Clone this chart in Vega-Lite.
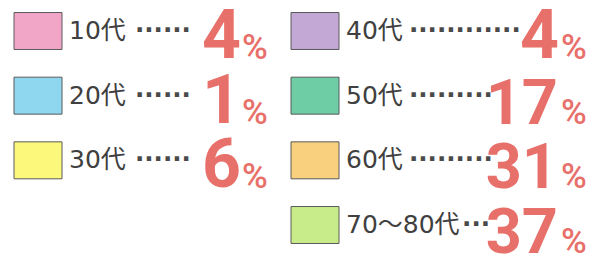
{
  "$schema": "https://vega.github.io/schema/vega-lite/v6.json",
  "width": 608,
  "height": 260,
  "autosize": {"type": "fit", "contains": "padding"},
  "padding": 0,
  "background": "white",
  "config": {"view": {"stroke": null}},
  "data": {"values": [
    {"age": "10代", "dots": "······", "pct": 4, "col": 0, "row": 0},
    {"age": "20代", "dots": "······", "pct": 1, "col": 0, "row": 1},
    {"age": "30代", "dots": "······", "pct": 6, "col": 0, "row": 2},
    {"age": "40代", "dots": "············", "pct": 4, "col": 1, "row": 0},
    {"age": "50代", "dots": "·········", "pct": 17, "col": 1, "row": 1},
    {"age": "60代", "dots": "·········", "pct": 31, "col": 1, "row": 2},
    {"age": "70～80代", "dots": "···", "pct": 37, "col": 1, "row": 3}
  ]},
  "encoding": {
    "y": {"field": "row", "type": "quantitative", "scale": {"domain": [0, 3], "range": [31, 225]}, "axis": null}
  },
  "layer": [
    {
      "mark": {"type": "point", "shape": "M-1,-0.77L1,-0.77L1,0.77L-1,0.77Z", "size": 2304, "filled": true, "opacity": 1, "stroke": "#5a5a5a", "strokeWidth": 1},
      "encoding": {
        "x": {"field": "col", "type": "quantitative", "scale": {"domain": [0, 1], "range": [38, 315]}, "axis": null},
        "color": {"field": "age", "type": "nominal", "legend": null, "scale": {
          "domain": ["10代", "20代", "30代", "40代", "50代", "60代", "70～80代"],
          "range": ["#F2A6C7", "#8FD7EF", "#FCF87C", "#C3A7D5", "#6FCDA6", "#F8D07E", "#C8EC8A"]
        }}
      }
    },
    {
      "mark": {"type": "text", "align": "left", "baseline": "middle", "dx": 31, "fontSize": 25, "font": "DejaVu Sans, Noto Sans CJK JP", "fill": "#404040"},
      "encoding": {
        "x": {"field": "col", "type": "quantitative", "scale": {"domain": [0, 1], "range": [38, 315]}, "axis": null},
        "text": {"field": "age"}
      }
    },
    {
      "transform": [{"filter": "datum.row < 3"}],
      "mark": {"type": "text", "align": "left", "baseline": "middle", "fontSize": 24.5, "font": "DejaVu Sans", "fontWeight": "bold", "fill": "#4a4a4a"},
      "encoding": {
        "x": {"field": "col", "type": "quantitative", "scale": {"domain": [0, 1], "range": [135, 409]}, "axis": null},
        "text": {"field": "dots"}
      }
    },
    {
      "transform": [{"filter": "datum.row == 3"}],
      "mark": {"type": "text", "align": "right", "baseline": "middle", "fontSize": 24.5, "font": "DejaVu Sans", "fontWeight": "bold", "fill": "#4a4a4a"},
      "encoding": {
        "x": {"field": "col", "type": "quantitative", "scale": {"domain": [0, 1], "range": [212, 490]}, "axis": null},
        "text": {"field": "dots"}
      }
    },
    {
      "transform": [{"filter": "datum.pct < 10"}],
      "mark": {"type": "text", "align": "right", "baseline": "alphabetic", "dy": 27, "fontSize": 68, "font": "Roboto, sans-serif", "fontWeight": "bold", "fill": "#E8706A"},
      "encoding": {
        "x": {"field": "col", "type": "quantitative", "scale": {"domain": [0, 1], "range": [241, 559]}, "axis": null},
        "text": {"field": "pct"}
      }
    },
    {
      "transform": [{"filter": "datum.pct >= 10"}],
      "mark": {"type": "text", "align": "right", "baseline": "alphabetic", "dy": 28, "fontSize": 63, "font": "Roboto, sans-serif", "fontWeight": "bold", "fill": "#E8706A"},
      "encoding": {
        "x": {"field": "col", "type": "quantitative", "scale": {"domain": [0, 1], "range": [241, 558]}, "axis": null},
        "text": {"field": "pct"}
      }
    },
    {
      "mark": {"type": "text", "align": "left", "baseline": "alphabetic", "dy": 28, "fontSize": 35, "font": "Roboto, sans-serif", "fontWeight": 500, "fill": "#E8706A"},
      "encoding": {
        "x": {"field": "col", "type": "quantitative", "scale": {"domain": [0, 1], "range": [242, 561]}, "axis": null},
        "text": {"value": "%"}
      }
    }
  ],
  "resolve": {"scale": {"x": "independent"}}
}
